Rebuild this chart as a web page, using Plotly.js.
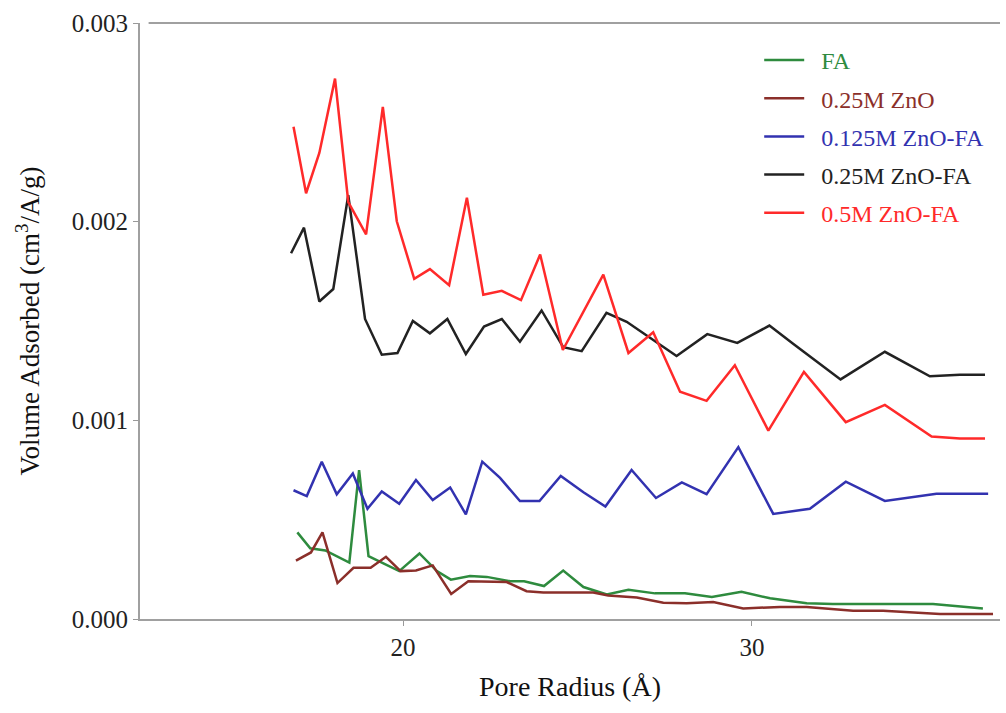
<!DOCTYPE html>
<html>
<head>
<meta charset="utf-8">
<script src="https://cdn.plot.ly/plotly-3.0.1.min.js"></script>
<style>html,body{margin:0;padding:0;background:#fff;}#chart{width:1006px;height:713px;}</style>
</head>
<body>
<div id="chart"></div>
<script>
// Pore radius (Å) and volume adsorbed (cm3/A/g)
const faX = [16.97,17.34,17.77,18.46,18.74,19.01,19.89,20.47,20.97,21.37,21.92,22.40,23.07,23.47,24.04,24.59,25.17,25.84,26.46,27.22,28.08,28.85,29.70,30.52,31.57,32.32,35.19,36.62];
const faY = [0.000436,0.000356,0.000345,0.000284,0.000749,0.000316,0.000241,0.000330,0.000241,0.000198,0.000216,0.000212,0.000190,0.000190,0.000166,0.000244,0.000161,0.000123,0.000147,0.000129,0.000129,0.000111,0.000137,0.000104,0.000079,0.000075,0.000075,0.000053];

const znoX = [16.93,17.36,17.69,18.12,18.58,19.07,19.51,19.93,20.37,20.85,21.38,21.87,22.97,23.54,24.02,25.45,25.88,26.70,27.46,28.13,28.89,29.75,30.80,31.57,32.90,33.76,35.39,36.91];
const znoY = [0.000294,0.000335,0.000436,0.000181,0.000258,0.000258,0.000313,0.000241,0.000244,0.000270,0.000126,0.000190,0.000186,0.000140,0.000133,0.000133,0.000118,0.000108,0.000082,0.000079,0.000085,0.000053,0.000061,0.000061,0.000042,0.000042,0.000025,0.000025];

const z125X = [16.86,17.24,17.67,18.10,18.56,18.98,19.39,19.89,20.37,20.85,21.35,21.80,22.27,22.78,23.35,23.91,24.52,25.17,25.80,26.55,27.25,27.99,28.70,29.61,30.61,31.66,32.69,33.81,35.29,36.77];
const z125Y = [0.000648,0.000619,0.000792,0.000628,0.000732,0.000555,0.000642,0.000580,0.000700,0.000599,0.000662,0.000527,0.000792,0.000710,0.000594,0.000594,0.000720,0.000638,0.000566,0.000750,0.000609,0.000688,0.000628,0.000865,0.000529,0.000555,0.000691,0.000594,0.000631,0.000631];

const z25X = [16.79,17.16,17.60,18.00,18.43,18.91,19.39,19.84,20.28,20.77,21.27,21.80,22.32,22.83,23.35,23.97,24.59,25.12,25.83,26.41,27.84,28.72,29.58,30.50,31.18,32.54,33.81,35.10,35.96,36.68];
const z25Y = [0.001841,0.001970,0.001598,0.001661,0.002134,0.001510,0.001330,0.001339,0.001500,0.001438,0.001510,0.001334,0.001472,0.001510,0.001396,0.001553,0.001368,0.001348,0.001541,0.001496,0.001324,0.001434,0.001390,0.001477,0.001386,0.001206,0.001345,0.001222,0.001229,0.001229];

const z5X = [16.86,17.22,17.60,18.05,18.43,18.94,19.42,19.82,20.32,20.77,21.32,21.83,22.30,22.83,23.38,23.93,24.58,25.74,26.46,27.17,27.94,28.70,29.51,30.47,31.49,32.69,33.81,35.15,35.96,36.68];
const z5Y = [0.002478,0.002143,0.002346,0.002720,0.002099,0.001936,0.002578,0.002002,0.001712,0.001761,0.001680,0.002120,0.001632,0.001652,0.001605,0.001835,0.001354,0.001733,0.001339,0.001443,0.001144,0.001098,0.001277,0.000948,0.001244,0.000991,0.001078,0.000919,0.000908,0.000908];

const names = ['FA','0.25M ZnO','0.125M ZnO-FA','0.25M ZnO-FA','0.5M ZnO-FA'];
const colors = ['#2e8b3e','#8b2f2a','#3232b0','#222222','#ff2a2a'];
const xs = [faX, znoX, z125X, z25X, z5X];
const ys = [faY, znoY, z125Y, z25Y, z5Y];

const traces = names.map((n, i) => ({
  x: xs[i], y: ys[i], type: 'scatter', mode: 'lines',
  name: '<span style="color:' + colors[i] + '">\u2002' + n + '</span>',
  legendgroup: 'g' + i,
  line: {color: colors[i], width: 2.5}
}));

const serif = 'Liberation Serif, Times New Roman, serif';
const layout = {
  width: 1006, height: 713,
  margin: {l: 140, r: 6, t: 23, b: 94},
  paper_bgcolor: '#fff', plot_bgcolor: '#fff',
  font: {family: serif, size: 24, color: '#222'},
  showlegend: true,
  legend: {x: 0.72, y: 0.975, xanchor: 'left', yanchor: 'top', font: {family: serif, size: 24}, itemwidth: 40, tracegroupgap: 4, bgcolor: 'rgba(0,0,0,0)'},
  xaxis: {
    range: [12.46, 37.11], tickvals: [20, 30], ticks: 'outside', ticklen: 5, tickcolor: '#999',
    showline: true, linecolor: '#a0a0a0', linewidth: 2, showgrid: false, zeroline: false,
    tickfont: {family: serif, size: 25, color: '#222'},
    title: {text: 'Pore Radius (Å)', font: {family: serif, size: 28, color: '#111'}, standoff: 16}
  },
  yaxis: {
    range: [0, 0.003], tickvals: [0, 0.001, 0.002, 0.003], tickformat: '.3f', ticks: 'outside', ticklen: 5, tickcolor: '#999',
    showline: true, linecolor: '#a0a0a0', linewidth: 2, showgrid: false, zeroline: false,
    tickfont: {family: serif, size: 25, color: '#222'},
    title: {text: 'Volume Adsorbed (cm<sup>3</sup>/A/g)', font: {family: serif, size: 27, color: '#111'}, standoff: 24}
  },
  shapes: [{type: 'line', xref: 'paper', yref: 'paper', x0: 0.01, x1: 1, y0: 1, y1: 1, line: {color: '#a0a0a0', width: 2}}]
};

Plotly.newPlot('chart', traces, layout, {displayModeBar: false, staticPlot: true});
</script>
</body>
</html>
